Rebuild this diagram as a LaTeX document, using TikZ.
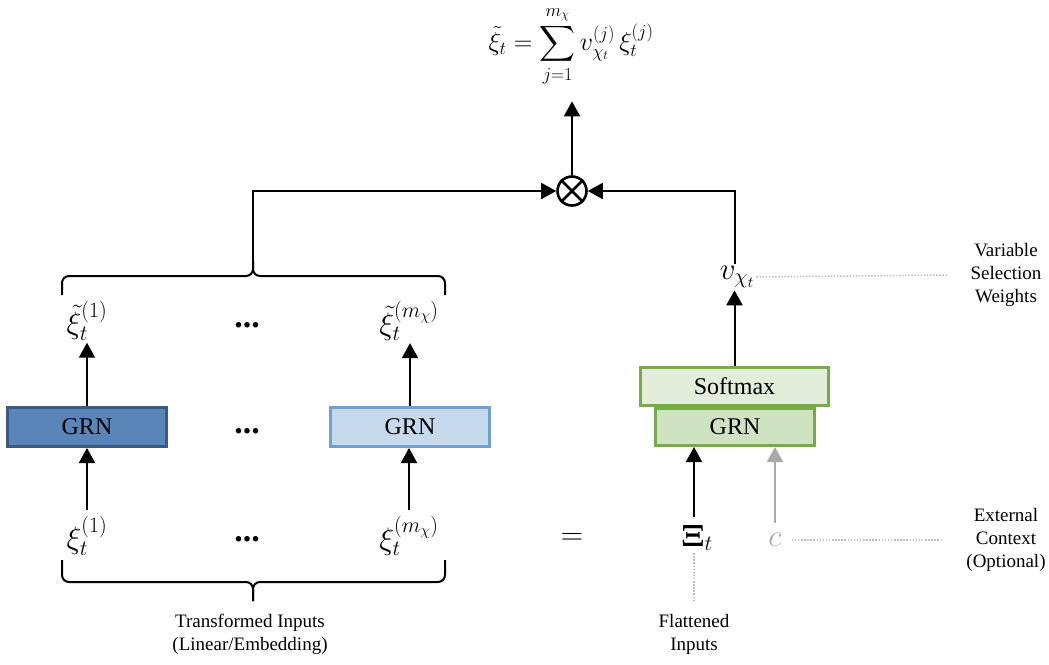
\RequirePackage{fix-cm}
\documentclass[tikz,border=0pt]{standalone}
\usepackage{amsmath}
\usepackage[no-math]{fontspec}
\setmainfont{Liberation Serif}
\usetikzlibrary{arrows.meta}

\definecolor{grnDark}{HTML}{5A85B9}
\definecolor{grnDarkLine}{HTML}{3A5A84}
\definecolor{grnLight}{HTML}{C7DAED}
\definecolor{grnLightLine}{HTML}{6FA0D6}
\definecolor{softFill}{HTML}{E2EEDA}
\definecolor{vsnFill}{HTML}{CFE2C1}
\definecolor{vsnLine}{HTML}{74AC4C}
\definecolor{guideGray}{HTML}{BDBDBD}
\definecolor{ctxGray}{HTML}{A9A9A9}

\begin{document}
\begin{tikzpicture}[x=1pt,y=-1pt,
  arr/.style={line width=2pt,-{Triangle[length=15pt,width=16pt]}},
  block/.style={draw,line width=3pt,inner sep=0pt,
    font=\fontsize{24}{28}\selectfont},
  mathlbl/.style={inner sep=2pt,font=\fontsize{31}{36}\selectfont},
  note/.style={align=center,font=\fontsize{19}{23}\selectfont},
  dots/.style={anchor=base,inner sep=0pt,font=\fontsize{34}{34}\selectfont\bfseries},
  guide/.style={draw=guideGray,line width=1.5pt,dash pattern=on 1.5pt off 1.6pt},
  bracepath/.style={line width=2pt,rounded corners=7pt},
]
\useasboundingbox (0,0) rectangle (1049,664);

% combined output formula
\node[inner sep=1pt,font=\fontsize{26}{30}\selectfont] (sum) at (571,46)
  {$\displaystyle \tilde{\xi}_t=\sum_{j=1}^{m_\chi} v_{\chi_t}^{(j)}\,\xi_t^{(j)}$};

% weighting product
\node[circle,draw,line width=2.6pt,minimum size=29pt,inner sep=0pt] (prod) at (572,191) {};
\draw[line width=2.6pt] (prod.45) -- (prod.225) (prod.135) -- (prod.315);
\draw[arr,shorten >=14pt] (prod.north) -- (prod.north |- sum.south);

% transformed-input branches
\node[block,fill=grnDark,draw=grnDarkLine,minimum width=159pt,minimum height=39pt] (grn1) at (87,427) {GRN};
\node[block,fill=grnLight,draw=grnLightLine,minimum width=159pt,minimum height=39pt] (grnm) at (410,427) {GRN};
\node[dots] (dmid) at (247,433) {...};

\node[mathlbl] (xo1) at (87,321) {$\tilde{\xi}_t^{(1)}$};
\node[mathlbl] (xom) at (409,321) {$\tilde{\xi}_t^{(m_\chi)}$};
\node[dots] (dtop) at (247,327) {...};

\node[mathlbl] (xi1) at (87,536) {$\xi_t^{(1)}$};
\node[mathlbl] (xim) at (409,536) {$\xi_t^{(m_\chi)}$};
\node[dots] (dbot) at (247,541) {...};

\draw[arr] (grn1.north) -- (grn1.north |- xo1.south);
\draw[arr] (grnm.north) -- (grnm.north |- xom.south);
\draw[arr] ([yshift=4pt]xi1.north) -- (xi1.north |- grn1.south);
\draw[arr] ([yshift=4pt]xim.north) -- (xim.north |- grnm.south);

% braces
\coordinate (btop) at (253,261);
\draw[bracepath] (62,295) -- (62,276) -- (253,276) -- (btop);
\draw[bracepath] (445,295) -- (445,276) -- (253,276) -- (btop);
\draw[bracepath] (62,560) -- (62,582) -- (253,582) -- (253,601);
\draw[bracepath] (445,560) -- (445,582) -- (253,582) -- (253,601);

\draw[arr] (btop) |- (prod.west);

\node[note] (tin) at (250,634) {Transformed Inputs\\(Linear/Embedding)};

% equality with flattened inputs
\node[mathlbl] (eq) at (572,539) {$=$};

% variable selection weights
\node[block,fill=vsnFill,draw=vsnLine,minimum width=159pt,minimum height=37pt] (grnv) at (735,427) {GRN};
\node[block,fill=softFill,draw=vsnLine,minimum width=188pt,minimum height=38pt] (soft) at (734.5,386.5) {Softmax};

\node[mathlbl] (vw) at (737,277) {$v_{\chi_t}$};
\draw[arr] (soft.north) -- (soft.north |- vw.south);
\draw[arr] (vw.north -| soft.north) |- (prod.east);

\coordinate (finEnd) at (694,601);
\node[mathlbl] (flat) at (697,538) {$\mathbf{\Xi}_t$};
\node[mathlbl,text=ctxGray] (ctx) at (775,540) {$c$};

\draw[arr] ([yshift=6pt]flat.north -| finEnd) -- (finEnd |- grnv.south);
\draw[arr,draw=ctxGray] ([yshift=8pt]ctx.north) -- (ctx.north |- grnv.south);

% annotations
\node[note] (vsw) at (1006,275) {Variable\\Selection\\Weights};
\node[note] (ext) at (1006,540) {External\\Context\\(Optional)};
\node[note] (fin) at (694,634) {Flattened\\Inputs};

\coordinate (vswEnd) at (947,275);
\coordinate (extEnd) at (943,540);
\draw[guide] (vw.east) -- (vswEnd);
\draw[guide] ([xshift=8pt]ctx.east) -- (extEnd);
\draw[guide] (finEnd |- flat.south) -- (finEnd);
\end{tikzpicture}
\end{document}
